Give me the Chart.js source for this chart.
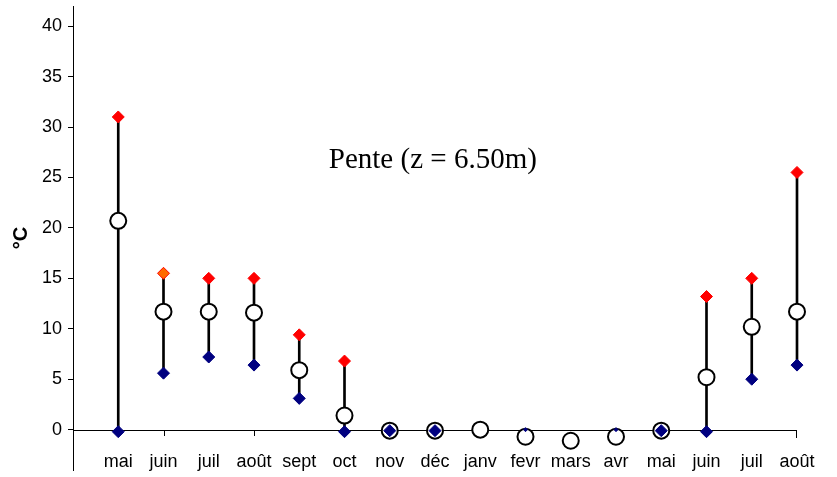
<!DOCTYPE html>
<html lang="fr">
<head>
    <meta charset="UTF-8">
    <title>Pente (z = 6.50m)</title>
    <script src="https://cdn.jsdelivr.net/npm/chart.js"></script>
    <style>
        * { margin: 0; padding: 0; box-sizing: border-box; }
        body { background: #fff; width: 837px; height: 477px; overflow: hidden; }
        canvas { display: block; }
    </style>
</head>
<body>
    <canvas id="tempChart" width="837" height="477"></canvas>

    <script>
        const months = ['mai', 'juin', 'juil', 'août', 'sept', 'oct', 'nov', 'déc', 'janv', 'fevr', 'mars', 'avr', 'mai', 'juin', 'juil', 'août'];
        const maxTemp = [31, 15.5, 15, 15, 9.4, 6.8, null, null, null, null, null, null, null, 13.2, 15, 25.5];
        const meanTemp = [20.7, 11.7, 11.7, 11.6, 5.9, 1.4, -0.1, -0.1, 0, -0.7, -1.1, -0.7, -0.1, 5.2, 10.2, 11.7];
        const minTemp = [-0.2, 5.6, 7.2, 6.4, 3.1, -0.2, -0.1, -0.1, null, 0, null, 0, -0.1, -0.2, 5.0, 6.4];
        const yTicks = [0, 5, 10, 15, 20, 25, 30, 35, 40];
        const chartTitle = 'Pente (z = 6.50m)';

        const toPoints = arr => arr.map((v, i) => ({ x: i, y: v }));
        const ranges = minTemp.map((lo, i) => ({ x: i, y: (lo !== null && maxTemp[i] !== null) ? [lo, maxTemp[i]] : null }));

        // axe horizontal à 0, étiquettes des mois, titre
        const overlay = {
            id: 'overlay',
            beforeDatasetsDraw(chart) {
                const { ctx, scales: { x, y } } = chart;
                const y0 = Math.round(y.getPixelForValue(0));
                ctx.save();
                ctx.strokeStyle = '#000';
                ctx.lineWidth = 1;
                ctx.beginPath();
                ctx.moveTo(x.left, y0 + 0.5);
                ctx.lineTo(x.getPixelForValue(months.length - 1), y0 + 0.5);
                [1, 3].forEach(i => {
                    const px = Math.round(x.getPixelForValue(i)) + 0.5;
                    ctx.moveTo(px, y0);
                    ctx.lineTo(px, y0 + 6);
                });
                const pe = Math.round(x.getPixelForValue(months.length - 1)) - 0.5;
                ctx.moveTo(pe, y0);
                ctx.lineTo(pe, y0 + 8);
                ctx.stroke();
                ctx.restore();
            },
            afterDraw(chart) {
                const { ctx, chartArea, scales: { x } } = chart;
                ctx.save();
                ctx.fillStyle = '#000';
                ctx.font = '18px "Liberation Sans", Arial, sans-serif';
                ctx.textAlign = 'center';
                ctx.textBaseline = 'alphabetic';
                months.forEach((m, i) => ctx.fillText(m, x.getPixelForValue(i), 467));
                ctx.font = '29px "Liberation Serif", "Times New Roman", serif';
                ctx.fillText(chartTitle, chartArea.left + chartArea.width * 0.497, 168);
                ctx.restore();
            }
        };

        const ctx = document.getElementById('tempChart').getContext('2d');
        new Chart(ctx, {
            type: 'scatter',
            data: {
                datasets: [
                    {
                        type: 'bar',
                        label: 'étendue',
                        data: ranges,
                        backgroundColor: '#000',
                        barThickness: 2,
                        grouped: false,
                        clip: false,
                        order: 4
                    },
                    {
                        label: 'max',
                        data: toPoints(maxTemp),
                        pointStyle: 'rectRot',
                        pointRadius: 6,
                        backgroundColor: c => c.dataIndex === 1 ? '#FF6A00' : '#FF0000',
                        borderColor: '#FF0000',
                        borderWidth: 1,
                        clip: false,
                        order: 3
                    },
                    {
                        label: 'moyenne',
                        data: toPoints(meanTemp),
                        pointStyle: 'circle',
                        pointRadius: 8,
                        backgroundColor: '#fff',
                        borderColor: '#000',
                        borderWidth: 2,
                        clip: false,
                        order: 2
                    },
                    {
                        label: 'min',
                        data: toPoints(minTemp),
                        pointStyle: 'rectRot',
                        pointRadius: c => (c.dataIndex === 9 || c.dataIndex === 11) ? 2 : 6,
                        backgroundColor: '#000080',
                        borderColor: '#000080',
                        borderWidth: 1,
                        clip: false,
                        order: 1
                    }
                ]
            },
            plugins: [overlay],
            options: {
                responsive: false,
                animation: false,
                layout: { autoPadding: false, padding: { top: 6, right: 40, bottom: 7, left: 0 } },
                plugins: {
                    legend: { display: false },
                    tooltip: { enabled: false }
                },
                scales: {
                    x: {
                        type: 'linear',
                        display: false,
                        min: -1,
                        max: months.length - 1,
                        offset: false
                    },
                    y: {
                        min: -4,
                        max: 42,
                        afterBuildTicks: s => { s.ticks = yTicks.map(v => ({ value: v })); },
                        afterFit: s => { s.width = 73; s.paddingTop = 0; s.paddingBottom = 0; },
                        border: { display: true, color: '#000', width: 1 },
                        grid: { drawOnChartArea: false, drawTicks: true, tickLength: 5, color: '#000' },
                        ticks: {
                            color: '#000',
                            padding: 6,
                            font: { family: '"Liberation Sans", Arial, sans-serif', size: 18 }
                        },
                        title: {
                            display: true,
                            text: '°C',
                            color: '#000',
                            padding: { top: 9, bottom: 0 },
                            font: { family: '"Liberation Sans", Arial, sans-serif', size: 20, weight: 'bold' }
                        }
                    }
                }
            }
        });
    </script>
</body>
</html>
